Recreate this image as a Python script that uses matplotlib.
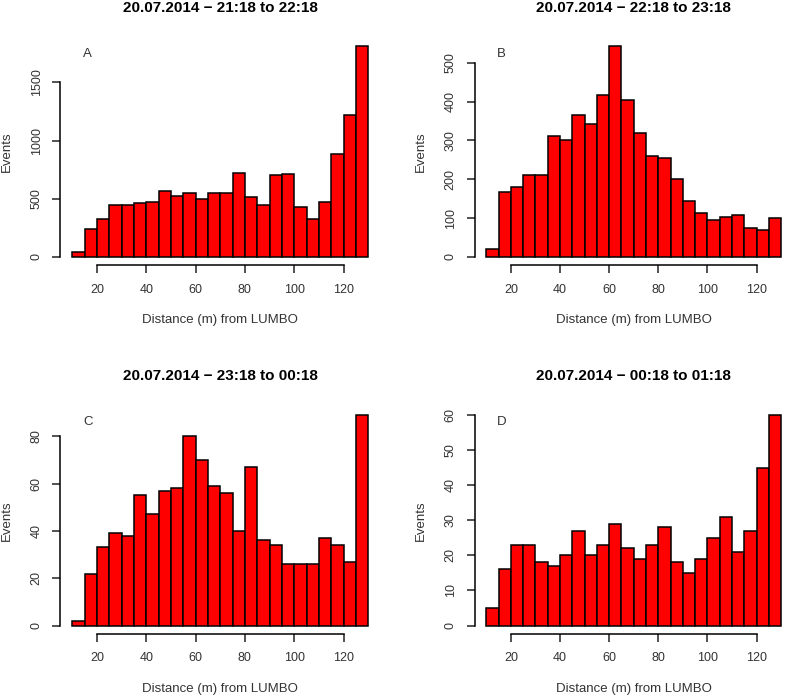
import matplotlib
matplotlib.use("Agg")
import matplotlib.pyplot as plt

plt.rcParams['font.family'] = ['Liberation Sans', 'DejaVu Sans']

# bin edges (m) shared by all four histograms
bin_lefts = [10, 15, 20, 25, 30, 35, 40, 45, 50, 55, 60, 65,
             70, 75, 80, 85, 90, 95, 100, 105, 110, 115, 120, 125]
bin_width = 5

counts_a = [40, 244, 327, 447, 447, 464, 470, 570, 527, 550, 499, 553,
            553, 722, 513, 444, 705, 716, 433, 324, 470, 885, 1223, 1808]
counts_b = [21, 166, 181, 210, 210, 311, 301, 365, 342, 418, 542, 405,
            318, 261, 255, 201, 143, 114, 95, 104, 107, 74, 70, 101]
counts_c = [2, 22, 33, 39, 38, 55, 47, 57, 58, 80, 70, 59,
            56, 40, 67, 36, 34, 26, 26, 26, 37, 34, 27, 89]
counts_d = [5, 16, 23, 23, 18, 17, 20, 27, 20, 23, 29, 22,
            19, 23, 28, 18, 15, 19, 25, 31, 21, 27, 45, 60]

titles = ["20.07.2014 \u2212 21:18 to 22:18",
          "20.07.2014 \u2212 22:18 to 23:18",
          "20.07.2014 \u2212 23:18 to 00:18",
          "20.07.2014 \u2212 00:18 to 01:18"]
letters = ["A", "B", "C", "D"]
yticks = [[0, 500, 1000, 1500],
          [0, 100, 200, 300, 400, 500],
          [0, 20, 40, 60, 80],
          [0, 10, 20, 30, 40, 50, 60]]
xticks = [20, 40, 60, 80, 100, 120]

W, H = 787, 699
fig = plt.figure(figsize=(W / 100, H / 100), dpi=100)

# axes boxes in pixels: left, top, right, bottom
boxes = [(60.5, 38, 380, 265.4), (474.5, 38, 793, 265.4),
         (60.5, 406.5, 380, 634), (474.5, 406.5, 793, 634)]

all_counts = [counts_a, counts_b, counts_c, counts_d]

for i, counts in enumerate(all_counts):
    l, t, r, b = boxes[i]
    ax = fig.add_axes([l / W, 1 - b / H, (r - l) / W, (b - t) / H])
    ax.bar(bin_lefts, counts, width=bin_width, align='edge',
           color='#ff0000', edgecolor='black', linewidth=1.1)

    lo, hi = bin_lefts[0], bin_lefts[-1] + bin_width
    ax.set_xlim(lo - 0.04 * (hi - lo), hi + 0.04 * (hi - lo))
    top = max(counts)
    ax.set_ylim(-0.04 * top, 1.04 * top)

    for s in ['top', 'right']:
        ax.spines[s].set_visible(False)
    ax.spines['left'].set_bounds(yticks[i][0], yticks[i][-1])
    ax.spines['bottom'].set_bounds(xticks[0], xticks[-1])
    for s in ['left', 'bottom']:
        ax.spines[s].set_linewidth(1.1)

    ax.set_xticks(xticks)
    ax.set_yticks(yticks[i])
    ax.set_yticklabels([str(v) for v in yticks[i]], rotation=90, va='center')
    ax.tick_params(axis='both', length=5.8, width=1.1, labelsize=9,
                   colors='#222222', labelcolor='#333333')
    ax.tick_params(axis='x', pad=7.5)
    ax.tick_params(axis='y', pad=7)

    ax.set_title(titles[i], fontsize=11, fontweight='bold', pad=19)
    ax.set_ylabel("Events", fontsize=9.5, color='#333333')
    ax.yaxis.set_label_coords(-0.167, 0.5)
    ax.yaxis.label.set_va('center')
    ax.set_xlabel("Distance (m) from LUMBO", fontsize=9.5, color='#333333')
    ax.xaxis.set_label_coords(0.5, -0.24)
    ax.xaxis.label.set_va('center')

    ax.text(0.085, 0.93, letters[i], transform=ax.transAxes,
            ha='center', va='center', fontsize=9.5, color='#333333')

fig.savefig("out.png", dpi=100)
